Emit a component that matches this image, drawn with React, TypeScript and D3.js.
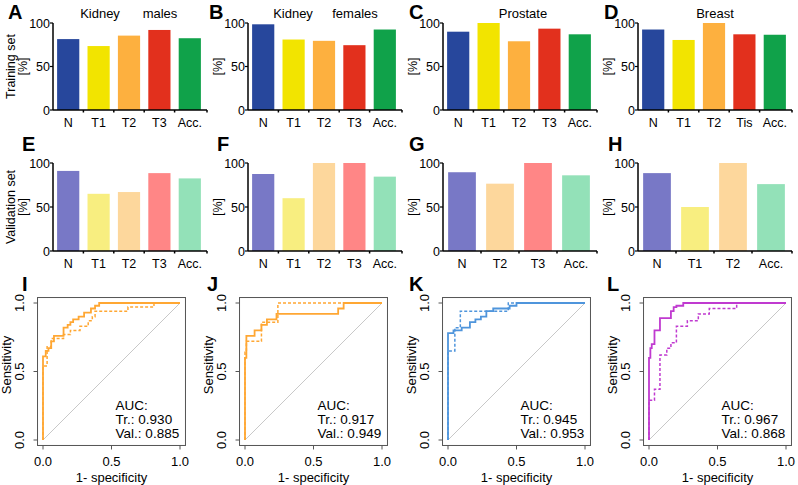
import React from "react";
import * as d3 from "d3";

// ---------- data ----------
const kidneyMaleTrainCats = ["N", "T1", "T2", "T3", "Acc."];
const kidneyMaleTrain = [81.5, 73.5, 85.5, 92, 82.5];
const kidneyMaleValCats = ["N", "T1", "T2", "T3", "Acc."];
const kidneyMaleVal = [91, 65, 67, 88.5, 82.5];

const kidneyFemaleTrainCats = ["N", "T1", "T2", "T3", "Acc."];
const kidneyFemaleTrain = [98.5, 81, 79.5, 74.5, 92.5];
const kidneyFemaleValCats = ["N", "T1", "T2", "T3", "Acc."];
const kidneyFemaleVal = [87.5, 60, 100, 100, 84.5];

const prostateTrainCats = ["N", "T1", "T2", "T3", "Acc."];
const prostateTrain = [90, 100, 79, 93.5, 87];
const prostateValCats = ["N", "T2", "T3", "Acc."];
const prostateVal = [89.5, 76.5, 100, 86];

const breastTrainCats = ["N", "T1", "T2", "Tis", "Acc."];
const breastTrain = [92.5, 80.5, 100, 87, 86.5];
const breastValCats = ["N", "T1", "T2", "Acc."];
const breastVal = [88.5, 50, 100, 76];

const yTicks = [0, 50, 100];
const rocTicks = [0, 0.5, 1];
const rocTickLabels = ["0.0", "0.5", "1.0"];

// ROC curves (fpr, tpr) vertices
const rocI_trFpr = [0, 0, 0.02, 0.02, 0.04, 0.04, 0.06, 0.06, 0.08, 0.08, 0.15, 0.15, 0.18, 0.18, 0.2, 0.2, 0.22, 0.22, 0.26, 0.26, 0.3, 0.3, 0.35, 0.35, 0.38, 0.38, 0.41, 0.41, 1];
const rocI_trTpr = [0, 0.61, 0.61, 0.65, 0.65, 0.67, 0.67, 0.72, 0.72, 0.76, 0.76, 0.82, 0.82, 0.84, 0.84, 0.86, 0.86, 0.88, 0.88, 0.9, 0.9, 0.93, 0.93, 0.96, 0.96, 0.98, 0.98, 1, 1];
const rocI_vaFpr = [0, 0, 0.03, 0.03, 0.06, 0.06, 0.15, 0.15, 0.2, 0.2, 0.27, 0.27, 0.33, 0.33, 0.36, 0.36, 0.38, 0.38, 0.62, 0.62, 0.81, 0.81, 1];
const rocI_vaTpr = [0, 0.54, 0.54, 0.68, 0.68, 0.74, 0.74, 0.77, 0.77, 0.8, 0.8, 0.83, 0.83, 0.87, 0.87, 0.9, 0.9, 0.94, 0.94, 0.97, 0.97, 1, 1];

const rocJ_trFpr = [0, 0, 0.01, 0.01, 0.07, 0.07, 0.12, 0.12, 0.16, 0.16, 0.23, 0.23, 0.68, 0.68, 0.72, 0.72, 1];
const rocJ_trTpr = [0, 0.6, 0.6, 0.76, 0.76, 0.8, 0.8, 0.84, 0.84, 0.88, 0.88, 0.92, 0.92, 0.96, 0.96, 1, 1];
const rocJ_vaFpr = [0, 0, 0.01, 0.01, 0.12, 0.12, 0.24, 0.24, 1];
const rocJ_vaTpr = [0, 0.64, 0.64, 0.72, 0.72, 0.86, 0.86, 1, 1];

const rocK_trFpr = [0, 0, 0.04, 0.04, 0.1, 0.1, 0.16, 0.16, 0.2, 0.2, 0.24, 0.24, 0.28, 0.28, 0.33, 0.33, 0.45, 0.45, 0.5, 0.5, 1];
const rocK_trTpr = [0, 0.78, 0.78, 0.8, 0.8, 0.82, 0.82, 0.86, 0.86, 0.88, 0.88, 0.9, 0.9, 0.94, 0.94, 0.96, 0.96, 0.98, 0.98, 1, 1];
const rocK_vaFpr = [0, 0, 0.05, 0.05, 0.09, 0.09, 0.44, 0.44, 1];
const rocK_vaTpr = [0, 0.65, 0.65, 0.82, 0.82, 0.94, 0.94, 1, 1];

const rocL_trFpr = [0, 0, 0.01, 0.01, 0.02, 0.02, 0.04, 0.04, 0.08, 0.08, 0.16, 0.16, 0.18, 0.18, 0.2, 0.2, 0.25, 0.25, 1];
const rocL_trTpr = [0, 0.6, 0.6, 0.67, 0.67, 0.7, 0.7, 0.8, 0.8, 0.89, 0.89, 0.94, 0.94, 0.97, 0.97, 0.98, 0.98, 1, 1];
const rocL_vaFpr = [0, 0, 0.04, 0.04, 0.08, 0.08, 0.13, 0.13, 0.16, 0.16, 0.2, 0.2, 0.28, 0.28, 0.36, 0.36, 0.44, 0.44, 0.64, 0.64, 1];
const rocL_vaTpr = [0, 0.29, 0.29, 0.37, 0.37, 0.62, 0.62, 0.67, 0.67, 0.71, 0.71, 0.83, 0.83, 0.87, 0.87, 0.92, 0.92, 0.96, 0.96, 1, 1];

const aucTr = ["0.930", "0.917", "0.945", "0.967"];
const aucVal = ["0.885", "0.949", "0.953", "0.868"];

// ---------- styles ----------
const FONT = "'Liberation Sans', Arial, sans-serif";
const trainColors: Record<string, string> = {
  N: "#27479c", T1: "#f2e400", T2: "#fdb03f", T3: "#e2301d", Tis: "#e2301d", "Acc.": "#10a24a",
};
const valColors: Record<string, string> = {
  N: "#7878c6", T1: "#f8ee80", T2: "#fdd79c", T3: "#ff8686", "Acc.": "#93e1b8",
};
const rocColors = ["#ffa733", "#ffa733", "#4f95dc", "#c03ad0"];

const colAxisX = [53, 248, 443, 638];
const rocX0 = [43, 245, 448, 649];

function BarPanel(props: {
  axisX: number; y0: number; y100: number; cats: string[]; vals: number[];
  colors: Record<string, string>; ylab1?: string;
}) {
  const { axisX, y0, y100, cats, vals, colors, ylab1 } = props;
  const w = 152;
  const x = d3.scaleBand<string>().domain(cats).range([axisX, axisX + w]).paddingInner(0.27).paddingOuter(0.135);
  const y = d3.scaleLinear().domain([0, 100]).range([y0, y100]);
  const step = x.step();
  const gap = step - x.bandwidth();
  const midY = (y0 + y100) / 2;
  return (
    <g fontFamily={FONT} fontSize={12.5}>
      {cats.map((c, i) => (
        <rect key={c} x={x(c)!} y={y(vals[i])} width={x.bandwidth()} height={y(0) - y(vals[i])} fill={colors[c]} />
      ))}
      <line x1={axisX} x2={axisX} y1={y(0)} y2={y(100)} stroke="#000" strokeWidth={1.5} />
      <line x1={axisX} x2={axisX + w + 2} y1={y(0)} y2={y(0)} stroke="#000" strokeWidth={1.5} />
      {yTicks.map((t) => (
        <g key={t}>
          <line x1={axisX - 3} x2={axisX} y1={y(t)} y2={y(t)} stroke="#000" strokeWidth={1.2} />
          <text x={axisX - 3} y={y(t) + 4.5} textAnchor="end">{t}</text>
        </g>
      ))}
      {cats.slice(1).map((c) => (
        <line key={c} x1={x(c)! - gap / 2} x2={x(c)! - gap / 2} y1={y(0)} y2={y(0) + 2.5} stroke="#000" strokeWidth={1.5} />
      ))}
      <line x1={axisX + w + 2} x2={axisX + w + 2} y1={y(0)} y2={y(0) + 2.5} stroke="#000" strokeWidth={1.5} />
      {cats.map((c) => (
        <text key={c} x={x(c)! + x.bandwidth() / 2} y={y0 + 17} textAnchor="middle">{c}</text>
      ))}
      <text transform={`translate(${axisX - 26},${midY}) rotate(-90)`} textAnchor="middle">[%]</text>
      {ylab1 && (
        <text transform={`translate(${axisX - 38.5},${midY}) rotate(-90)`} textAnchor="middle">{ylab1}</text>
      )}
    </g>
  );
}

function RocPanel(props: {
  idx: number; trF: number[]; trT: number[]; vaF: number[]; vaT: number[];
}) {
  const { idx, trF, trT, vaF, vaT } = props;
  const x0 = rocX0[idx];
  const x = d3.scaleLinear().domain([0, 1]).range([x0, x0 + 137]);
  const y = d3.scaleLinear().domain([0, 1]).range([440, 303]);
  const line = d3.line<[number, number]>().x((d) => x(d[0])).y((d) => y(d[1]));
  const tr = trF.map((f, i) => [f, trT[i]] as [number, number]);
  const va = vaF.map((f, i) => [f, vaT[i]] as [number, number]);
  const bx0 = x(-0.04), bx1 = x(1.04), by0 = y(-0.04), by1 = y(1.04);
  const col = rocColors[idx];
  const tx = x(0.53);
  return (
    <g fontFamily={FONT} fontSize={13}>
      <rect x={bx0} y={by1} width={bx1 - bx0} height={by0 - by1} fill="none" stroke="#555" strokeWidth={1} />
      <line x1={x(0)} y1={y(0)} x2={x(1)} y2={y(1)} stroke="#c8c8c8" strokeWidth={1} />
      <path d={line(va)!} fill="none" stroke={col} strokeWidth={1.5} strokeDasharray="3,2" />
      <path d={line(tr)!} fill="none" stroke={col} strokeWidth={1.8} />
      {rocTicks.map((t, i) => (
        <g key={t}>
          <line x1={bx0 - 4} x2={bx0} y1={y(t)} y2={y(t)} stroke="#555" />
          <text transform={`translate(${bx0 - 14},${y(t)}) rotate(-90)`} textAnchor="middle">{rocTickLabels[i]}</text>
          <line x1={x(t)} x2={x(t)} y1={by0} y2={by0 + 4} stroke="#555" />
          <text x={x(t)} y={by0 + 21} textAnchor="middle">{rocTickLabels[i]}</text>
        </g>
      ))}
      <text transform={`translate(${bx0 - 27},${365}) rotate(-90)`} textAnchor="middle">Sensitivity</text>
      <text x={(x(0) + x(1)) / 2} y={482} textAnchor="middle">1- specificity</text>
      <g fontSize={13.5}>
        <text x={tx} y={410}>AUC:</text>
        <text x={tx} y={424}>{`Tr.: ${aucTr[idx]}`}</text>
        <text x={tx} y={438}>{`Val.: ${aucVal[idx]}`}</text>
      </g>
    </g>
  );
}

const letters = [
  { t: "A", x: 8, y: 19 }, { t: "B", x: 209, y: 19 }, { t: "C", x: 409, y: 19 }, { t: "D", x: 604, y: 19 },
  { t: "E", x: 22, y: 151 }, { t: "F", x: 217, y: 151 }, { t: "G", x: 409, y: 151 }, { t: "H", x: 608, y: 151 },
  { t: "I", x: 22, y: 291 }, { t: "J", x: 207, y: 291 }, { t: "K", x: 409, y: 291 }, { t: "L", x: 607, y: 291 },
];

export default function App() {
  return (
    <svg width={798} height={485} style={{ position: "absolute", left: 0, top: 0, background: "#fff" }}>
      <rect x={0} y={0} width={798} height={485} fill="#fff" />
      {/* titles */}
      <g fontFamily={FONT} fontSize={13}>
        <text x={100} y={18} textAnchor="middle">Kidney</text>
        <text x={160} y={18} textAnchor="middle">males</text>
        <text x={293} y={18} textAnchor="middle">Kidney</text>
        <text x={355} y={18} textAnchor="middle">females</text>
        <text x={523} y={18} textAnchor="middle">Prostate</text>
        <text x={715} y={18} textAnchor="middle">Breast</text>
      </g>
      {/* training row */}
      <BarPanel axisX={colAxisX[0]} y0={110} y100={23} cats={kidneyMaleTrainCats} vals={kidneyMaleTrain} colors={trainColors} ylab1="Training set" />
      <BarPanel axisX={colAxisX[1]} y0={110} y100={23} cats={kidneyFemaleTrainCats} vals={kidneyFemaleTrain} colors={trainColors} />
      <BarPanel axisX={colAxisX[2]} y0={110} y100={23} cats={prostateTrainCats} vals={prostateTrain} colors={trainColors} />
      <BarPanel axisX={colAxisX[3]} y0={110} y100={23} cats={breastTrainCats} vals={breastTrain} colors={trainColors} />
      {/* validation row */}
      <BarPanel axisX={colAxisX[0]} y0={251} y100={163} cats={kidneyMaleValCats} vals={kidneyMaleVal} colors={valColors} ylab1="Validation set" />
      <BarPanel axisX={colAxisX[1]} y0={251} y100={163} cats={kidneyFemaleValCats} vals={kidneyFemaleVal} colors={valColors} />
      <BarPanel axisX={colAxisX[2]} y0={251} y100={163} cats={prostateValCats} vals={prostateVal} colors={valColors} />
      <BarPanel axisX={colAxisX[3]} y0={251} y100={163} cats={breastValCats} vals={breastVal} colors={valColors} />
      {/* ROC row */}
      <RocPanel idx={0} trF={rocI_trFpr} trT={rocI_trTpr} vaF={rocI_vaFpr} vaT={rocI_vaTpr} />
      <RocPanel idx={1} trF={rocJ_trFpr} trT={rocJ_trTpr} vaF={rocJ_vaFpr} vaT={rocJ_vaTpr} />
      <RocPanel idx={2} trF={rocK_trFpr} trT={rocK_trTpr} vaF={rocK_vaFpr} vaT={rocK_vaTpr} />
      <RocPanel idx={3} trF={rocL_trFpr} trT={rocL_trTpr} vaF={rocL_vaFpr} vaT={rocL_vaTpr} />
      {/* panel letters */}
      <g fontFamily={FONT} fontSize={20} fontWeight="bold">
        {letters.map((l) => (
          <text key={l.t} x={l.x} y={l.y}>{l.t}</text>
        ))}
      </g>
    </svg>
  );
}
